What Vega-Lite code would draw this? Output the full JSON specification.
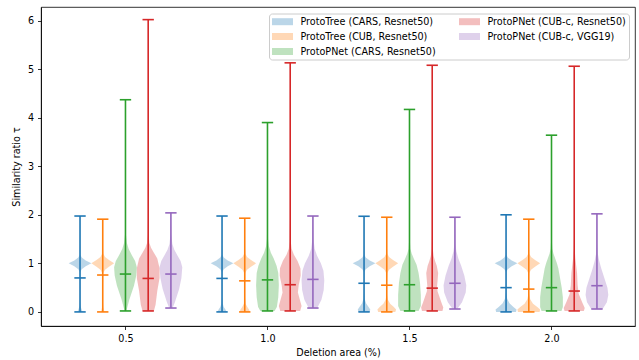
{
"$schema": "https://vega.github.io/schema/vega-lite/v6.json",
"autosize": {"type": "none"},
"padding": {"left": 41, "top": 7, "right": 4, "bottom": 34},
"width": 594,
"height": 319,
"config": {
  "font": "DejaVu Sans",
  "view": {"stroke": "black", "strokeWidth": 0.8},
  "axis": {"labelFont": "DejaVu Sans", "titleFont": "DejaVu Sans", "labelFontSize": 9.6, "titleFontSize": 9.6, "titleFontWeight": "normal", "labelColor": "black", "titleColor": "black", "tickColor": "black", "domainColor": "black", "tickSize": 3.5, "tickWidth": 0.8, "domainWidth": 0.8, "labelPadding": 4, "grid": false},
  "legend": {"labelFont": "DejaVu Sans", "labelFontSize": 9.6, "labelColor": "black", "gridAlign": "all", "labelAlign": "left"}
},
"datasets": {
"stats": [
{"s":"ProtoTree (CARS, Resnet50)","c":0.34,"xl":0.32,"xr":0.36,"mn":0,"md":0.70,"mx":1.975},
{"s":"ProtoTree (CUB, Resnet50)","c":0.42,"xl":0.40,"xr":0.44,"mn":0,"md":0.76,"mx":1.91},
{"s":"ProtoPNet (CARS, Resnet50)","c":0.50,"xl":0.48,"xr":0.52,"mn":0.02,"md":0.78,"mx":4.37},
{"s":"ProtoPNet (CUB-c, Resnet50)","c":0.58,"xl":0.56,"xr":0.60,"mn":0.02,"md":0.69,"mx":6.02},
{"s":"ProtoPNet (CUB-c, VGG19)","c":0.66,"xl":0.64,"xr":0.68,"mn":0.08,"md":0.78,"mx":2.04},
{"s":"ProtoTree (CARS, Resnet50)","c":0.84,"xl":0.82,"xr":0.86,"mn":0,"md":0.69,"mx":1.975},
{"s":"ProtoTree (CUB, Resnet50)","c":0.92,"xl":0.90,"xr":0.94,"mn":0,"md":0.64,"mx":1.93},
{"s":"ProtoPNet (CARS, Resnet50)","c":1.00,"xl":0.98,"xr":1.02,"mn":0.02,"md":0.66,"mx":3.90},
{"s":"ProtoPNet (CUB-c, Resnet50)","c":1.08,"xl":1.06,"xr":1.10,"mn":0.02,"md":0.56,"mx":5.13},
{"s":"ProtoPNet (CUB-c, VGG19)","c":1.16,"xl":1.14,"xr":1.18,"mn":0.08,"md":0.67,"mx":1.975},
{"s":"ProtoTree (CARS, Resnet50)","c":1.34,"xl":1.32,"xr":1.36,"mn":0,"md":0.59,"mx":1.97},
{"s":"ProtoTree (CUB, Resnet50)","c":1.42,"xl":1.40,"xr":1.44,"mn":0,"md":0.55,"mx":1.95},
{"s":"ProtoPNet (CARS, Resnet50)","c":1.50,"xl":1.48,"xr":1.52,"mn":0.02,"md":0.56,"mx":4.17},
{"s":"ProtoPNet (CUB-c, Resnet50)","c":1.58,"xl":1.56,"xr":1.60,"mn":0.02,"md":0.49,"mx":5.08},
{"s":"ProtoPNet (CUB-c, VGG19)","c":1.66,"xl":1.64,"xr":1.68,"mn":0.06,"md":0.59,"mx":1.95},
{"s":"ProtoTree (CARS, Resnet50)","c":1.84,"xl":1.82,"xr":1.86,"mn":0,"md":0.50,"mx":2.0},
{"s":"ProtoTree (CUB, Resnet50)","c":1.92,"xl":1.90,"xr":1.94,"mn":0,"md":0.47,"mx":1.91},
{"s":"ProtoPNet (CARS, Resnet50)","c":2.00,"xl":1.98,"xr":2.02,"mn":0.02,"md":0.50,"mx":3.64},
{"s":"ProtoPNet (CUB-c, Resnet50)","c":2.08,"xl":2.06,"xr":2.10,"mn":0.02,"md":0.43,"mx":5.06},
{"s":"ProtoPNet (CUB-c, VGG19)","c":2.16,"xl":2.14,"xr":2.18,"mn":0.06,"md":0.54,"mx":2.02}
],
"violins": [
{"v":"A0","s":"ProtoTree (CARS, Resnet50)","y":0,"lo":0.331,"hi":0.349},
{"v":"A0","s":"ProtoTree (CARS, Resnet50)","y":0.06,"lo":0.335,"hi":0.345},
{"v":"A0","s":"ProtoTree (CARS, Resnet50)","y":0.12,"lo":0.338,"hi":0.342},
{"v":"A0","s":"ProtoTree (CARS, Resnet50)","y":0.2,"lo":0.3392,"hi":0.3408},
{"v":"A0","s":"ProtoTree (CARS, Resnet50)","y":0.4,"lo":0.3397,"hi":0.3403},
{"v":"A0","s":"ProtoTree (CARS, Resnet50)","y":0.7,"lo":0.3395,"hi":0.3405},
{"v":"A0","s":"ProtoTree (CARS, Resnet50)","y":0.82,"lo":0.339,"hi":0.341},
{"v":"A0","s":"ProtoTree (CARS, Resnet50)","y":0.88,"lo":0.334,"hi":0.346},
{"v":"A0","s":"ProtoTree (CARS, Resnet50)","y":0.94,"lo":0.32,"hi":0.36},
{"v":"A0","s":"ProtoTree (CARS, Resnet50)","y":1.0,"lo":0.30,"hi":0.38},
{"v":"A0","s":"ProtoTree (CARS, Resnet50)","y":1.06,"lo":0.32,"hi":0.36},
{"v":"A0","s":"ProtoTree (CARS, Resnet50)","y":1.12,"lo":0.334,"hi":0.346},
{"v":"A0","s":"ProtoTree (CARS, Resnet50)","y":1.18,"lo":0.339,"hi":0.341},
{"v":"A0","s":"ProtoTree (CARS, Resnet50)","y":1.4,"lo":0.3397,"hi":0.3403},
{"v":"A0","s":"ProtoTree (CARS, Resnet50)","y":1.975,"lo":0.3399,"hi":0.3401},

{"v":"A1","s":"ProtoTree (CARS, Resnet50)","y":0,"lo":0.824,"hi":0.856},
{"v":"A1","s":"ProtoTree (CARS, Resnet50)","y":0.05,"lo":0.828,"hi":0.852},
{"v":"A1","s":"ProtoTree (CARS, Resnet50)","y":0.1,"lo":0.834,"hi":0.846},
{"v":"A1","s":"ProtoTree (CARS, Resnet50)","y":0.18,"lo":0.838,"hi":0.842},
{"v":"A1","s":"ProtoTree (CARS, Resnet50)","y":0.3,"lo":0.8395,"hi":0.8405},
{"v":"A1","s":"ProtoTree (CARS, Resnet50)","y":0.7,"lo":0.8395,"hi":0.8405},
{"v":"A1","s":"ProtoTree (CARS, Resnet50)","y":0.82,"lo":0.839,"hi":0.841},
{"v":"A1","s":"ProtoTree (CARS, Resnet50)","y":0.88,"lo":0.834,"hi":0.846},
{"v":"A1","s":"ProtoTree (CARS, Resnet50)","y":0.94,"lo":0.82,"hi":0.86},
{"v":"A1","s":"ProtoTree (CARS, Resnet50)","y":1.0,"lo":0.80,"hi":0.88},
{"v":"A1","s":"ProtoTree (CARS, Resnet50)","y":1.06,"lo":0.82,"hi":0.86},
{"v":"A1","s":"ProtoTree (CARS, Resnet50)","y":1.12,"lo":0.834,"hi":0.846},
{"v":"A1","s":"ProtoTree (CARS, Resnet50)","y":1.18,"lo":0.839,"hi":0.841},
{"v":"A1","s":"ProtoTree (CARS, Resnet50)","y":1.4,"lo":0.8397,"hi":0.8403},
{"v":"A1","s":"ProtoTree (CARS, Resnet50)","y":1.975,"lo":0.8399,"hi":0.8401},

{"v":"A2","s":"ProtoTree (CARS, Resnet50)","y":0,"lo":1.32,"hi":1.36},
{"v":"A2","s":"ProtoTree (CARS, Resnet50)","y":0.05,"lo":1.318,"hi":1.362},
{"v":"A2","s":"ProtoTree (CARS, Resnet50)","y":0.1,"lo":1.324,"hi":1.356},
{"v":"A2","s":"ProtoTree (CARS, Resnet50)","y":0.18,"lo":1.333,"hi":1.347},
{"v":"A2","s":"ProtoTree (CARS, Resnet50)","y":0.27,"lo":1.338,"hi":1.342},
{"v":"A2","s":"ProtoTree (CARS, Resnet50)","y":0.4,"lo":1.3395,"hi":1.3405},
{"v":"A2","s":"ProtoTree (CARS, Resnet50)","y":0.7,"lo":1.3395,"hi":1.3405},
{"v":"A2","s":"ProtoTree (CARS, Resnet50)","y":0.82,"lo":1.339,"hi":1.341},
{"v":"A2","s":"ProtoTree (CARS, Resnet50)","y":0.88,"lo":1.334,"hi":1.346},
{"v":"A2","s":"ProtoTree (CARS, Resnet50)","y":0.94,"lo":1.32,"hi":1.36},
{"v":"A2","s":"ProtoTree (CARS, Resnet50)","y":1.0,"lo":1.30,"hi":1.38},
{"v":"A2","s":"ProtoTree (CARS, Resnet50)","y":1.06,"lo":1.32,"hi":1.36},
{"v":"A2","s":"ProtoTree (CARS, Resnet50)","y":1.12,"lo":1.334,"hi":1.346},
{"v":"A2","s":"ProtoTree (CARS, Resnet50)","y":1.18,"lo":1.339,"hi":1.341},
{"v":"A2","s":"ProtoTree (CARS, Resnet50)","y":1.4,"lo":1.3397,"hi":1.3403},
{"v":"A2","s":"ProtoTree (CARS, Resnet50)","y":1.97,"lo":1.3399,"hi":1.3401},

{"v":"A3","s":"ProtoTree (CARS, Resnet50)","y":0,"lo":1.805,"hi":1.875},
{"v":"A3","s":"ProtoTree (CARS, Resnet50)","y":0.05,"lo":1.803,"hi":1.877},
{"v":"A3","s":"ProtoTree (CARS, Resnet50)","y":0.1,"lo":1.814,"hi":1.866},
{"v":"A3","s":"ProtoTree (CARS, Resnet50)","y":0.18,"lo":1.828,"hi":1.852},
{"v":"A3","s":"ProtoTree (CARS, Resnet50)","y":0.27,"lo":1.836,"hi":1.844},
{"v":"A3","s":"ProtoTree (CARS, Resnet50)","y":0.4,"lo":1.839,"hi":1.841},
{"v":"A3","s":"ProtoTree (CARS, Resnet50)","y":0.7,"lo":1.8395,"hi":1.8405},
{"v":"A3","s":"ProtoTree (CARS, Resnet50)","y":0.82,"lo":1.839,"hi":1.841},
{"v":"A3","s":"ProtoTree (CARS, Resnet50)","y":0.88,"lo":1.834,"hi":1.846},
{"v":"A3","s":"ProtoTree (CARS, Resnet50)","y":0.94,"lo":1.82,"hi":1.86},
{"v":"A3","s":"ProtoTree (CARS, Resnet50)","y":1.0,"lo":1.80,"hi":1.88},
{"v":"A3","s":"ProtoTree (CARS, Resnet50)","y":1.06,"lo":1.82,"hi":1.86},
{"v":"A3","s":"ProtoTree (CARS, Resnet50)","y":1.12,"lo":1.834,"hi":1.846},
{"v":"A3","s":"ProtoTree (CARS, Resnet50)","y":1.18,"lo":1.839,"hi":1.841},
{"v":"A3","s":"ProtoTree (CARS, Resnet50)","y":1.4,"lo":1.8397,"hi":1.8403},
{"v":"A3","s":"ProtoTree (CARS, Resnet50)","y":2.0,"lo":1.8399,"hi":1.8401},

{"v":"B0","s":"ProtoTree (CUB, Resnet50)","y":0,"lo":0.414,"hi":0.426},
{"v":"B0","s":"ProtoTree (CUB, Resnet50)","y":0.05,"lo":0.416,"hi":0.424},
{"v":"B0","s":"ProtoTree (CUB, Resnet50)","y":0.1,"lo":0.418,"hi":0.422},
{"v":"B0","s":"ProtoTree (CUB, Resnet50)","y":0.2,"lo":0.4192,"hi":0.4208},
{"v":"B0","s":"ProtoTree (CUB, Resnet50)","y":0.5,"lo":0.4196,"hi":0.4204},
{"v":"B0","s":"ProtoTree (CUB, Resnet50)","y":0.8,"lo":0.418,"hi":0.422},
{"v":"B0","s":"ProtoTree (CUB, Resnet50)","y":0.87,"lo":0.412,"hi":0.428},
{"v":"B0","s":"ProtoTree (CUB, Resnet50)","y":0.93,"lo":0.398,"hi":0.442},
{"v":"B0","s":"ProtoTree (CUB, Resnet50)","y":1.0,"lo":0.38,"hi":0.46},
{"v":"B0","s":"ProtoTree (CUB, Resnet50)","y":1.07,"lo":0.398,"hi":0.442},
{"v":"B0","s":"ProtoTree (CUB, Resnet50)","y":1.13,"lo":0.412,"hi":0.428},
{"v":"B0","s":"ProtoTree (CUB, Resnet50)","y":1.2,"lo":0.418,"hi":0.422},
{"v":"B0","s":"ProtoTree (CUB, Resnet50)","y":1.35,"lo":0.4196,"hi":0.4204},
{"v":"B0","s":"ProtoTree (CUB, Resnet50)","y":1.91,"lo":0.4199,"hi":0.4201},

{"v":"B1","s":"ProtoTree (CUB, Resnet50)","y":0,"lo":0.902,"hi":0.938},
{"v":"B1","s":"ProtoTree (CUB, Resnet50)","y":0.05,"lo":0.905,"hi":0.935},
{"v":"B1","s":"ProtoTree (CUB, Resnet50)","y":0.1,"lo":0.911,"hi":0.929},
{"v":"B1","s":"ProtoTree (CUB, Resnet50)","y":0.17,"lo":0.917,"hi":0.923},
{"v":"B1","s":"ProtoTree (CUB, Resnet50)","y":0.3,"lo":0.9192,"hi":0.9208},
{"v":"B1","s":"ProtoTree (CUB, Resnet50)","y":0.5,"lo":0.9196,"hi":0.9204},
{"v":"B1","s":"ProtoTree (CUB, Resnet50)","y":0.8,"lo":0.918,"hi":0.922},
{"v":"B1","s":"ProtoTree (CUB, Resnet50)","y":0.87,"lo":0.912,"hi":0.928},
{"v":"B1","s":"ProtoTree (CUB, Resnet50)","y":0.93,"lo":0.898,"hi":0.942},
{"v":"B1","s":"ProtoTree (CUB, Resnet50)","y":1.0,"lo":0.88,"hi":0.96},
{"v":"B1","s":"ProtoTree (CUB, Resnet50)","y":1.07,"lo":0.898,"hi":0.942},
{"v":"B1","s":"ProtoTree (CUB, Resnet50)","y":1.13,"lo":0.912,"hi":0.928},
{"v":"B1","s":"ProtoTree (CUB, Resnet50)","y":1.2,"lo":0.918,"hi":0.922},
{"v":"B1","s":"ProtoTree (CUB, Resnet50)","y":1.35,"lo":0.9196,"hi":0.9204},
{"v":"B1","s":"ProtoTree (CUB, Resnet50)","y":1.93,"lo":0.9199,"hi":0.9201},

{"v":"B2","s":"ProtoTree (CUB, Resnet50)","y":0,"lo":1.39,"hi":1.45},
{"v":"B2","s":"ProtoTree (CUB, Resnet50)","y":0.05,"lo":1.387,"hi":1.453},
{"v":"B2","s":"ProtoTree (CUB, Resnet50)","y":0.1,"lo":1.395,"hi":1.445},
{"v":"B2","s":"ProtoTree (CUB, Resnet50)","y":0.17,"lo":1.408,"hi":1.432},
{"v":"B2","s":"ProtoTree (CUB, Resnet50)","y":0.25,"lo":1.416,"hi":1.424},
{"v":"B2","s":"ProtoTree (CUB, Resnet50)","y":0.35,"lo":1.419,"hi":1.421},
{"v":"B2","s":"ProtoTree (CUB, Resnet50)","y":0.55,"lo":1.4196,"hi":1.4204},
{"v":"B2","s":"ProtoTree (CUB, Resnet50)","y":0.8,"lo":1.418,"hi":1.422},
{"v":"B2","s":"ProtoTree (CUB, Resnet50)","y":0.87,"lo":1.412,"hi":1.428},
{"v":"B2","s":"ProtoTree (CUB, Resnet50)","y":0.93,"lo":1.398,"hi":1.442},
{"v":"B2","s":"ProtoTree (CUB, Resnet50)","y":1.0,"lo":1.38,"hi":1.46},
{"v":"B2","s":"ProtoTree (CUB, Resnet50)","y":1.07,"lo":1.398,"hi":1.442},
{"v":"B2","s":"ProtoTree (CUB, Resnet50)","y":1.13,"lo":1.412,"hi":1.428},
{"v":"B2","s":"ProtoTree (CUB, Resnet50)","y":1.2,"lo":1.418,"hi":1.422},
{"v":"B2","s":"ProtoTree (CUB, Resnet50)","y":1.35,"lo":1.4196,"hi":1.4204},
{"v":"B2","s":"ProtoTree (CUB, Resnet50)","y":1.95,"lo":1.4199,"hi":1.4201},

{"v":"B3","s":"ProtoTree (CUB, Resnet50)","y":0,"lo":1.882,"hi":1.958},
{"v":"B3","s":"ProtoTree (CUB, Resnet50)","y":0.05,"lo":1.88,"hi":1.96},
{"v":"B3","s":"ProtoTree (CUB, Resnet50)","y":0.1,"lo":1.89,"hi":1.95},
{"v":"B3","s":"ProtoTree (CUB, Resnet50)","y":0.17,"lo":1.905,"hi":1.935},
{"v":"B3","s":"ProtoTree (CUB, Resnet50)","y":0.26,"lo":1.915,"hi":1.925},
{"v":"B3","s":"ProtoTree (CUB, Resnet50)","y":0.38,"lo":1.919,"hi":1.921},
{"v":"B3","s":"ProtoTree (CUB, Resnet50)","y":0.55,"lo":1.9196,"hi":1.9204},
{"v":"B3","s":"ProtoTree (CUB, Resnet50)","y":0.8,"lo":1.918,"hi":1.922},
{"v":"B3","s":"ProtoTree (CUB, Resnet50)","y":0.87,"lo":1.912,"hi":1.928},
{"v":"B3","s":"ProtoTree (CUB, Resnet50)","y":0.93,"lo":1.898,"hi":1.942},
{"v":"B3","s":"ProtoTree (CUB, Resnet50)","y":1.0,"lo":1.88,"hi":1.96},
{"v":"B3","s":"ProtoTree (CUB, Resnet50)","y":1.07,"lo":1.898,"hi":1.942},
{"v":"B3","s":"ProtoTree (CUB, Resnet50)","y":1.13,"lo":1.912,"hi":1.928},
{"v":"B3","s":"ProtoTree (CUB, Resnet50)","y":1.2,"lo":1.918,"hi":1.922},
{"v":"B3","s":"ProtoTree (CUB, Resnet50)","y":1.35,"lo":1.9196,"hi":1.9204},
{"v":"B3","s":"ProtoTree (CUB, Resnet50)","y":1.91,"lo":1.9199,"hi":1.9201},

{"v":"C0","s":"ProtoPNet (CARS, Resnet50)","y":0.02,"lo":0.497,"hi":0.503},
{"v":"C0","s":"ProtoPNet (CARS, Resnet50)","y":0.26,"lo":0.486,"hi":0.514},
{"v":"C0","s":"ProtoPNet (CARS, Resnet50)","y":0.54,"lo":0.47,"hi":0.53},
{"v":"C0","s":"ProtoPNet (CARS, Resnet50)","y":0.75,"lo":0.462,"hi":0.538},
{"v":"C0","s":"ProtoPNet (CARS, Resnet50)","y":0.92,"lo":0.46,"hi":0.54},
{"v":"C0","s":"ProtoPNet (CARS, Resnet50)","y":1.05,"lo":0.466,"hi":0.534},
{"v":"C0","s":"ProtoPNet (CARS, Resnet50)","y":1.16,"lo":0.477,"hi":0.523},
{"v":"C0","s":"ProtoPNet (CARS, Resnet50)","y":1.3,"lo":0.489,"hi":0.511},
{"v":"C0","s":"ProtoPNet (CARS, Resnet50)","y":1.42,"lo":0.495,"hi":0.505},
{"v":"C0","s":"ProtoPNet (CARS, Resnet50)","y":1.6,"lo":0.4985,"hi":0.5015},
{"v":"C0","s":"ProtoPNet (CARS, Resnet50)","y":2.0,"lo":0.4995,"hi":0.5005},
{"v":"C0","s":"ProtoPNet (CARS, Resnet50)","y":3.0,"lo":0.4998,"hi":0.5002},
{"v":"C0","s":"ProtoPNet (CARS, Resnet50)","y":4.37,"lo":0.4999,"hi":0.5001},

{"v":"C1","s":"ProtoPNet (CARS, Resnet50)","y":0.02,"lo":0.975,"hi":1.025},
{"v":"C1","s":"ProtoPNet (CARS, Resnet50)","y":0.1,"lo":0.967,"hi":1.033},
{"v":"C1","s":"ProtoPNet (CARS, Resnet50)","y":0.3,"lo":0.962,"hi":1.038},
{"v":"C1","s":"ProtoPNet (CARS, Resnet50)","y":0.55,"lo":0.96,"hi":1.04},
{"v":"C1","s":"ProtoPNet (CARS, Resnet50)","y":0.8,"lo":0.962,"hi":1.038},
{"v":"C1","s":"ProtoPNet (CARS, Resnet50)","y":0.95,"lo":0.968,"hi":1.032},
{"v":"C1","s":"ProtoPNet (CARS, Resnet50)","y":1.1,"lo":0.978,"hi":1.022},
{"v":"C1","s":"ProtoPNet (CARS, Resnet50)","y":1.22,"lo":0.988,"hi":1.012},
{"v":"C1","s":"ProtoPNet (CARS, Resnet50)","y":1.35,"lo":0.995,"hi":1.005},
{"v":"C1","s":"ProtoPNet (CARS, Resnet50)","y":1.5,"lo":0.998,"hi":1.002},
{"v":"C1","s":"ProtoPNet (CARS, Resnet50)","y":2.0,"lo":0.9995,"hi":1.0005},
{"v":"C1","s":"ProtoPNet (CARS, Resnet50)","y":3.9,"lo":0.9999,"hi":1.0001},

{"v":"C2","s":"ProtoPNet (CARS, Resnet50)","y":0.02,"lo":1.468,"hi":1.532},
{"v":"C2","s":"ProtoPNet (CARS, Resnet50)","y":0.12,"lo":1.46,"hi":1.54},
{"v":"C2","s":"ProtoPNet (CARS, Resnet50)","y":0.35,"lo":1.46,"hi":1.54},
{"v":"C2","s":"ProtoPNet (CARS, Resnet50)","y":0.6,"lo":1.463,"hi":1.537},
{"v":"C2","s":"ProtoPNet (CARS, Resnet50)","y":0.8,"lo":1.468,"hi":1.532},
{"v":"C2","s":"ProtoPNet (CARS, Resnet50)","y":0.97,"lo":1.475,"hi":1.525},
{"v":"C2","s":"ProtoPNet (CARS, Resnet50)","y":1.1,"lo":1.485,"hi":1.515},
{"v":"C2","s":"ProtoPNet (CARS, Resnet50)","y":1.2,"lo":1.492,"hi":1.508},
{"v":"C2","s":"ProtoPNet (CARS, Resnet50)","y":1.3,"lo":1.497,"hi":1.503},
{"v":"C2","s":"ProtoPNet (CARS, Resnet50)","y":1.5,"lo":1.499,"hi":1.501},
{"v":"C2","s":"ProtoPNet (CARS, Resnet50)","y":2.5,"lo":1.4998,"hi":1.5002},
{"v":"C2","s":"ProtoPNet (CARS, Resnet50)","y":4.17,"lo":1.4999,"hi":1.5001},

{"v":"C3","s":"ProtoPNet (CARS, Resnet50)","y":0.02,"lo":1.965,"hi":2.035},
{"v":"C3","s":"ProtoPNet (CARS, Resnet50)","y":0.1,"lo":1.96,"hi":2.04},
{"v":"C3","s":"ProtoPNet (CARS, Resnet50)","y":0.3,"lo":1.96,"hi":2.04},
{"v":"C3","s":"ProtoPNet (CARS, Resnet50)","y":0.5,"lo":1.964,"hi":2.036},
{"v":"C3","s":"ProtoPNet (CARS, Resnet50)","y":0.7,"lo":1.97,"hi":2.03},
{"v":"C3","s":"ProtoPNet (CARS, Resnet50)","y":0.9,"lo":1.976,"hi":2.024},
{"v":"C3","s":"ProtoPNet (CARS, Resnet50)","y":1.0,"lo":1.981,"hi":2.019},
{"v":"C3","s":"ProtoPNet (CARS, Resnet50)","y":1.1,"lo":1.987,"hi":2.013},
{"v":"C3","s":"ProtoPNet (CARS, Resnet50)","y":1.2,"lo":1.993,"hi":2.007},
{"v":"C3","s":"ProtoPNet (CARS, Resnet50)","y":1.3,"lo":1.997,"hi":2.003},
{"v":"C3","s":"ProtoPNet (CARS, Resnet50)","y":1.5,"lo":1.999,"hi":2.001},
{"v":"C3","s":"ProtoPNet (CARS, Resnet50)","y":2.2,"lo":1.9997,"hi":2.0003},
{"v":"C3","s":"ProtoPNet (CARS, Resnet50)","y":3.64,"lo":1.9999,"hi":2.0001},

{"v":"D0","s":"ProtoPNet (CUB-c, Resnet50)","y":0.02,"lo":0.56,"hi":0.60},
{"v":"D0","s":"ProtoPNet (CUB-c, Resnet50)","y":0.15,"lo":0.554,"hi":0.606},
{"v":"D0","s":"ProtoPNet (CUB-c, Resnet50)","y":0.43,"lo":0.548,"hi":0.612},
{"v":"D0","s":"ProtoPNet (CUB-c, Resnet50)","y":0.7,"lo":0.54,"hi":0.62},
{"v":"D0","s":"ProtoPNet (CUB-c, Resnet50)","y":0.9,"lo":0.54,"hi":0.62},
{"v":"D0","s":"ProtoPNet (CUB-c, Resnet50)","y":1.1,"lo":0.548,"hi":0.612},
{"v":"D0","s":"ProtoPNet (CUB-c, Resnet50)","y":1.22,"lo":0.56,"hi":0.60},
{"v":"D0","s":"ProtoPNet (CUB-c, Resnet50)","y":1.32,"lo":0.57,"hi":0.59},
{"v":"D0","s":"ProtoPNet (CUB-c, Resnet50)","y":1.42,"lo":0.576,"hi":0.584},
{"v":"D0","s":"ProtoPNet (CUB-c, Resnet50)","y":1.6,"lo":0.5785,"hi":0.5815},
{"v":"D0","s":"ProtoPNet (CUB-c, Resnet50)","y":2.0,"lo":0.5795,"hi":0.5805},
{"v":"D0","s":"ProtoPNet (CUB-c, Resnet50)","y":3.0,"lo":0.5798,"hi":0.5802},
{"v":"D0","s":"ProtoPNet (CUB-c, Resnet50)","y":6.02,"lo":0.5799,"hi":0.5801},

{"v":"D1","s":"ProtoPNet (CUB-c, Resnet50)","y":0.02,"lo":1.045,"hi":1.115},
{"v":"D1","s":"ProtoPNet (CUB-c, Resnet50)","y":0.12,"lo":1.04,"hi":1.12},
{"v":"D1","s":"ProtoPNet (CUB-c, Resnet50)","y":0.25,"lo":1.046,"hi":1.114},
{"v":"D1","s":"ProtoPNet (CUB-c, Resnet50)","y":0.4,"lo":1.053,"hi":1.107},
{"v":"D1","s":"ProtoPNet (CUB-c, Resnet50)","y":0.55,"lo":1.05,"hi":1.11},
{"v":"D1","s":"ProtoPNet (CUB-c, Resnet50)","y":0.75,"lo":1.043,"hi":1.117},
{"v":"D1","s":"ProtoPNet (CUB-c, Resnet50)","y":0.9,"lo":1.044,"hi":1.116},
{"v":"D1","s":"ProtoPNet (CUB-c, Resnet50)","y":1.05,"lo":1.054,"hi":1.106},
{"v":"D1","s":"ProtoPNet (CUB-c, Resnet50)","y":1.18,"lo":1.067,"hi":1.093},
{"v":"D1","s":"ProtoPNet (CUB-c, Resnet50)","y":1.3,"lo":1.075,"hi":1.085},
{"v":"D1","s":"ProtoPNet (CUB-c, Resnet50)","y":1.45,"lo":1.078,"hi":1.082},
{"v":"D1","s":"ProtoPNet (CUB-c, Resnet50)","y":2.0,"lo":1.0795,"hi":1.0805},
{"v":"D1","s":"ProtoPNet (CUB-c, Resnet50)","y":5.13,"lo":1.0799,"hi":1.0801},

{"v":"D2","s":"ProtoPNet (CUB-c, Resnet50)","y":0.02,"lo":1.544,"hi":1.616},
{"v":"D2","s":"ProtoPNet (CUB-c, Resnet50)","y":0.09,"lo":1.541,"hi":1.619},
{"v":"D2","s":"ProtoPNet (CUB-c, Resnet50)","y":0.2,"lo":1.548,"hi":1.612},
{"v":"D2","s":"ProtoPNet (CUB-c, Resnet50)","y":0.3,"lo":1.554,"hi":1.606},
{"v":"D2","s":"ProtoPNet (CUB-c, Resnet50)","y":0.42,"lo":1.561,"hi":1.599},
{"v":"D2","s":"ProtoPNet (CUB-c, Resnet50)","y":0.52,"lo":1.563,"hi":1.597},
{"v":"D2","s":"ProtoPNet (CUB-c, Resnet50)","y":0.65,"lo":1.561,"hi":1.599},
{"v":"D2","s":"ProtoPNet (CUB-c, Resnet50)","y":0.8,"lo":1.559,"hi":1.601},
{"v":"D2","s":"ProtoPNet (CUB-c, Resnet50)","y":0.95,"lo":1.564,"hi":1.596},
{"v":"D2","s":"ProtoPNet (CUB-c, Resnet50)","y":1.05,"lo":1.57,"hi":1.59},
{"v":"D2","s":"ProtoPNet (CUB-c, Resnet50)","y":1.15,"lo":1.575,"hi":1.585},
{"v":"D2","s":"ProtoPNet (CUB-c, Resnet50)","y":1.3,"lo":1.578,"hi":1.582},
{"v":"D2","s":"ProtoPNet (CUB-c, Resnet50)","y":1.6,"lo":1.5794,"hi":1.5806},
{"v":"D2","s":"ProtoPNet (CUB-c, Resnet50)","y":5.08,"lo":1.5799,"hi":1.5801},

{"v":"D3","s":"ProtoPNet (CUB-c, Resnet50)","y":0.02,"lo":2.046,"hi":2.114},
{"v":"D3","s":"ProtoPNet (CUB-c, Resnet50)","y":0.08,"lo":2.043,"hi":2.117},
{"v":"D3","s":"ProtoPNet (CUB-c, Resnet50)","y":0.2,"lo":2.052,"hi":2.108},
{"v":"D3","s":"ProtoPNet (CUB-c, Resnet50)","y":0.37,"lo":2.064,"hi":2.096},
{"v":"D3","s":"ProtoPNet (CUB-c, Resnet50)","y":0.55,"lo":2.068,"hi":2.092},
{"v":"D3","s":"ProtoPNet (CUB-c, Resnet50)","y":0.8,"lo":2.07,"hi":2.09},
{"v":"D3","s":"ProtoPNet (CUB-c, Resnet50)","y":0.95,"lo":2.073,"hi":2.087},
{"v":"D3","s":"ProtoPNet (CUB-c, Resnet50)","y":1.1,"lo":2.076,"hi":2.084},
{"v":"D3","s":"ProtoPNet (CUB-c, Resnet50)","y":1.3,"lo":2.0785,"hi":2.0815},
{"v":"D3","s":"ProtoPNet (CUB-c, Resnet50)","y":1.6,"lo":2.0795,"hi":2.0805},
{"v":"D3","s":"ProtoPNet (CUB-c, Resnet50)","y":5.06,"lo":2.0799,"hi":2.0801},

{"v":"E0","s":"ProtoPNet (CUB-c, VGG19)","y":0.08,"lo":0.654,"hi":0.666},
{"v":"E0","s":"ProtoPNet (CUB-c, VGG19)","y":0.2,"lo":0.646,"hi":0.674},
{"v":"E0","s":"ProtoPNet (CUB-c, VGG19)","y":0.47,"lo":0.631,"hi":0.689},
{"v":"E0","s":"ProtoPNet (CUB-c, VGG19)","y":0.7,"lo":0.623,"hi":0.697},
{"v":"E0","s":"ProtoPNet (CUB-c, VGG19)","y":0.92,"lo":0.62,"hi":0.70},
{"v":"E0","s":"ProtoPNet (CUB-c, VGG19)","y":1.05,"lo":0.626,"hi":0.694},
{"v":"E0","s":"ProtoPNet (CUB-c, VGG19)","y":1.16,"lo":0.637,"hi":0.683},
{"v":"E0","s":"ProtoPNet (CUB-c, VGG19)","y":1.28,"lo":0.648,"hi":0.672},
{"v":"E0","s":"ProtoPNet (CUB-c, VGG19)","y":1.4,"lo":0.655,"hi":0.665},
{"v":"E0","s":"ProtoPNet (CUB-c, VGG19)","y":1.6,"lo":0.6585,"hi":0.6615},
{"v":"E0","s":"ProtoPNet (CUB-c, VGG19)","y":2.04,"lo":0.6598,"hi":0.6602},

{"v":"E1","s":"ProtoPNet (CUB-c, VGG19)","y":0.08,"lo":1.145,"hi":1.175},
{"v":"E1","s":"ProtoPNet (CUB-c, VGG19)","y":0.25,"lo":1.13,"hi":1.19},
{"v":"E1","s":"ProtoPNet (CUB-c, VGG19)","y":0.45,"lo":1.122,"hi":1.198},
{"v":"E1","s":"ProtoPNet (CUB-c, VGG19)","y":0.65,"lo":1.12,"hi":1.20},
{"v":"E1","s":"ProtoPNet (CUB-c, VGG19)","y":0.85,"lo":1.123,"hi":1.197},
{"v":"E1","s":"ProtoPNet (CUB-c, VGG19)","y":1.0,"lo":1.132,"hi":1.188},
{"v":"E1","s":"ProtoPNet (CUB-c, VGG19)","y":1.15,"lo":1.145,"hi":1.175},
{"v":"E1","s":"ProtoPNet (CUB-c, VGG19)","y":1.3,"lo":1.154,"hi":1.166},
{"v":"E1","s":"ProtoPNet (CUB-c, VGG19)","y":1.5,"lo":1.158,"hi":1.162},
{"v":"E1","s":"ProtoPNet (CUB-c, VGG19)","y":1.975,"lo":1.1598,"hi":1.1602},

{"v":"E2","s":"ProtoPNet (CUB-c, VGG19)","y":0.06,"lo":1.652,"hi":1.668},
{"v":"E2","s":"ProtoPNet (CUB-c, VGG19)","y":0.2,"lo":1.635,"hi":1.685},
{"v":"E2","s":"ProtoPNet (CUB-c, VGG19)","y":0.4,"lo":1.622,"hi":1.698},
{"v":"E2","s":"ProtoPNet (CUB-c, VGG19)","y":0.55,"lo":1.62,"hi":1.70},
{"v":"E2","s":"ProtoPNet (CUB-c, VGG19)","y":0.75,"lo":1.627,"hi":1.693},
{"v":"E2","s":"ProtoPNet (CUB-c, VGG19)","y":0.95,"lo":1.638,"hi":1.682},
{"v":"E2","s":"ProtoPNet (CUB-c, VGG19)","y":1.1,"lo":1.648,"hi":1.672},
{"v":"E2","s":"ProtoPNet (CUB-c, VGG19)","y":1.25,"lo":1.655,"hi":1.665},
{"v":"E2","s":"ProtoPNet (CUB-c, VGG19)","y":1.4,"lo":1.658,"hi":1.662},
{"v":"E2","s":"ProtoPNet (CUB-c, VGG19)","y":1.95,"lo":1.6598,"hi":1.6602},

{"v":"E3","s":"ProtoPNet (CUB-c, VGG19)","y":0.06,"lo":2.14,"hi":2.18},
{"v":"E3","s":"ProtoPNet (CUB-c, VGG19)","y":0.2,"lo":2.125,"hi":2.195},
{"v":"E3","s":"ProtoPNet (CUB-c, VGG19)","y":0.35,"lo":2.12,"hi":2.20},
{"v":"E3","s":"ProtoPNet (CUB-c, VGG19)","y":0.5,"lo":2.123,"hi":2.197},
{"v":"E3","s":"ProtoPNet (CUB-c, VGG19)","y":0.7,"lo":2.134,"hi":2.186},
{"v":"E3","s":"ProtoPNet (CUB-c, VGG19)","y":0.9,"lo":2.145,"hi":2.175},
{"v":"E3","s":"ProtoPNet (CUB-c, VGG19)","y":1.05,"lo":2.152,"hi":2.168},
{"v":"E3","s":"ProtoPNet (CUB-c, VGG19)","y":1.2,"lo":2.157,"hi":2.163},
{"v":"E3","s":"ProtoPNet (CUB-c, VGG19)","y":1.4,"lo":2.159,"hi":2.161},
{"v":"E3","s":"ProtoPNet (CUB-c, VGG19)","y":2.02,"lo":2.1598,"hi":2.1602}
]
},
"layer": [
{
  "data": {"name": "violins"},
  "mark": {"type": "area", "orient": "horizontal", "opacity": 0.3, "strokeWidth": 0},
  "encoding": {
    "y": {"field": "y", "type": "quantitative", "scale": {"domain": [-0.29, 6.28], "nice": false, "zero": false}, "axis": {"values": [0,1,2,3,4,5,6], "format": "d", "title": "Similarity ratio τ", "titlePadding": 6}},
    "x": {"field": "lo", "type": "quantitative", "stack": null, "scale": {"domain": [0.2026, 2.294], "nice": false, "zero": false}, "axis": {"values": [0.5, 1.0, 1.5, 2.0], "format": ".1f", "title": "Deletion area (%)", "titlePadding": 4}},
    "x2": {"field": "hi"},
    "detail": {"field": "v"},
    "fill": {"field": "s", "type": "nominal",
      "scale": {"domain": ["ProtoTree (CARS, Resnet50)", "ProtoTree (CUB, Resnet50)", "ProtoPNet (CARS, Resnet50)", "ProtoPNet (CUB-c, Resnet50)", "ProtoPNet (CUB-c, VGG19)"], "range": ["#1f77b4", "#ff7f0e", "#2ca02c", "#d62728", "#9467bd"]},
      "legend": {"title": null, "orient": "none", "legendX": 228, "legendY": 6.5, "columns": 2, "columnPadding": 20, "rowPadding": 5, "padding": 3, "fillColor": "rgba(255,255,255,0.8)", "strokeColor": "#cccccc", "cornerRadius": 3, "symbolType": "M-2.1,-0.7H2.1V0.7H-2.1Z", "symbolSize": 100, "symbolOffset": 5.5, "labelOffset": 13, "symbolStrokeWidth": 0, "symbolOpacity": 0.3, "labelFontSize": 9.6, "labelLimit": 300}
    }
  }
},
{
  "data": {"name": "stats"},
  "mark": {"type": "rule", "strokeWidth": 1.6},
  "encoding": {
    "x": {"field": "c", "type": "quantitative"},
    "y": {"field": "mn", "type": "quantitative"},
    "y2": {"field": "mx"},
    "stroke": {"field": "s", "type": "nominal", "legend": null,
      "scale": {"domain": ["ProtoTree (CARS, Resnet50)", "ProtoTree (CUB, Resnet50)", "ProtoPNet (CARS, Resnet50)", "ProtoPNet (CUB-c, Resnet50)", "ProtoPNet (CUB-c, VGG19)"], "range": ["#1f77b4", "#ff7f0e", "#2ca02c", "#d62728", "#9467bd"]}}
  }
},
{
  "data": {"name": "stats"},
  "mark": {"type": "rule", "strokeWidth": 1.6},
  "encoding": {
    "x": {"field": "xl", "type": "quantitative"},
    "x2": {"field": "xr"},
    "y": {"field": "mn", "type": "quantitative"},
    "stroke": {"field": "s", "type": "nominal", "legend": null}
  }
},
{
  "data": {"name": "stats"},
  "mark": {"type": "rule", "strokeWidth": 1.6},
  "encoding": {
    "x": {"field": "xl", "type": "quantitative"},
    "x2": {"field": "xr"},
    "y": {"field": "mx", "type": "quantitative"},
    "stroke": {"field": "s", "type": "nominal", "legend": null}
  }
},
{
  "data": {"name": "stats"},
  "mark": {"type": "rule", "strokeWidth": 1.6},
  "encoding": {
    "x": {"field": "xl", "type": "quantitative"},
    "x2": {"field": "xr"},
    "y": {"field": "md", "type": "quantitative"},
    "stroke": {"field": "s", "type": "nominal", "legend": null}
  }
}
]
}
